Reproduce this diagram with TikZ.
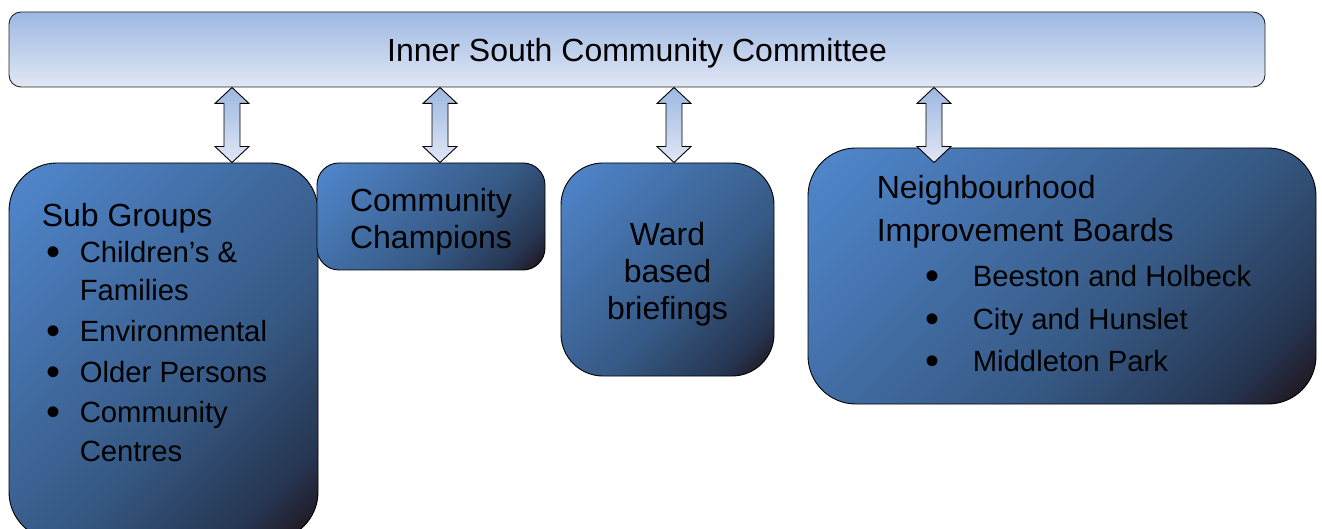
\documentclass[tikz,border=0pt]{standalone}
\usepackage{fontspec}
\setmainfont{Liberation Sans}
\usetikzlibrary{positioning,calc}

\definecolor{barTop}{RGB}{157,184,226}
\definecolor{barBot}{RGB}{225,231,245}
\definecolor{panelA}{RGB}{80,134,204}
\definecolor{panelB}{RGB}{54,89,132}
\definecolor{panelC}{RGB}{38,54,82}
\definecolor{panelD}{RGB}{32,18,24}

\pgfdeclarehorizontalshading{panelshade}{100bp}{color(0bp)=(panelA); color(16bp)=(panelA); color(58bp)=(panelB); color(76bp)=(panelC); color(85bp)=(panelD); color(100bp)=(panelD)}

\newcommand\bodyfont{\fontsize{32}{37}\selectfont}
\newcommand\itemfont{\fontsize{29.3}{38}\selectfont}
\newcommand\bdot{\raisebox{-3pt}{\fontsize{40}{37}\selectfont\textbullet}}
\newcommand\itm[1]{\makebox[38pt][l]{\hspace*{5pt}\bdot}{\itemfont#1}}
\newcommand\cnt[1]{\hspace*{38pt}{\itemfont#1}}
\newcommand\nitm[1]{\hspace*{49pt}\makebox[47pt][l]{\bdot}{\itemfont#1}}
% hollow double arrow between two points on one vertical
\newcommand\linkarrow[2]{%
  \path[link] let \p1=(#1), \p2=(#2) in
    (\x1,\y1) -- ++(17pt,-16pt) -- ++(-9pt,0pt) -- (\x1+8pt,\y2+16pt) -- ++(9pt,0pt) -- (\x2,\y2)
    -- ++(-17pt,16pt) -- ++(9pt,0pt) -- (\x1-8pt,\y1-16pt) -- ++(-9pt,0pt) -- cycle;}

\begin{document}
\begin{tikzpicture}[x=1pt,y=-1pt,
	bar/.style={draw=black!85, line width=0.9pt, rounded corners=12pt, top color=barTop, bottom color=barBot,
		minimum width=1256pt, minimum height=75pt, inner sep=0pt, font=\bodyfont, text depth=0pt},
	panel/.style={draw=black, line width=0.9pt, shading=panelshade, shading angle=-45, inner sep=0pt},
	txt/.style={inner sep=0pt, font=\bodyfont, text=black},
	link/.style={draw=black, line width=0.9pt, top color=barTop, bottom color=barBot}]
	\useasboundingbox (0,0) rectangle (1322,529);
	\clip (0,0) rectangle (1322,529);
	\node[bar] (bar) at (637,49.5) {Inner South Community Committee};
	% boxes under the committee
	\node[panel, minimum width=309pt, minimum height=377pt, rounded corners=48pt] (sub) at (163.5,351.5) {};
	\node[panel, minimum width=228pt, minimum height=107pt, rounded corners=22pt] (champ) at (431,216.5) {};
	\node[panel, minimum width=213pt, minimum height=213pt, rounded corners=42pt] (ward) at (667.5,269.5) {};
	\node[panel, minimum width=508pt, minimum height=256pt, rounded corners=48pt] (nib) at (1062,276) {};
	% their texts
	\node[txt, align=center] (champtext) at ([yshift=-5pt]champ.center) {Community\\Champions};
	\node[txt, align=center] (wardtext) at ([yshift=-5pt]ward.center) {Ward\\based\\briefings};
	\node[txt, align=left, font=\fontsize{32}{38}\selectfont, below right=41pt and 33pt of sub.north west] (subtext) {Sub Groups\\[-2pt]
		\itm{Children’s \&}\\
		\cnt{Families}\\[3pt]
		\itm{Environmental}\\[3pt]
		\itm{Older Persons}\\[2pt]
		\itm{Community}\\[1pt]
		\cnt{Centres}};
	\node[txt, align=left, font=\fontsize{32}{42.5}\selectfont, below right=28pt and 69pt of nib.north west] (nibtext) {Neighbourhood\\
		Improvement Boards\\[3pt]
		\nitm{Beeston and Holbeck}\\
		\nitm{City and Hunslet}\\
		\nitm{Middleton Park}};
	% arrows
	\foreach \name/\xx in {l1/232,l2/440,l3/674,l4/934}
		\coordinate (\name) at (\xx,0);
	\linkarrow{bar.south -| l1}{sub.north -| l1}
	\linkarrow{bar.south -| l2}{champ.north -| l2}
	\linkarrow{bar.south -| l3}{ward.north -| l3}
	\linkarrow{bar.south -| l4}{$(nib.north -| l4)+(0,15)$}
\end{tikzpicture}
\end{document}
